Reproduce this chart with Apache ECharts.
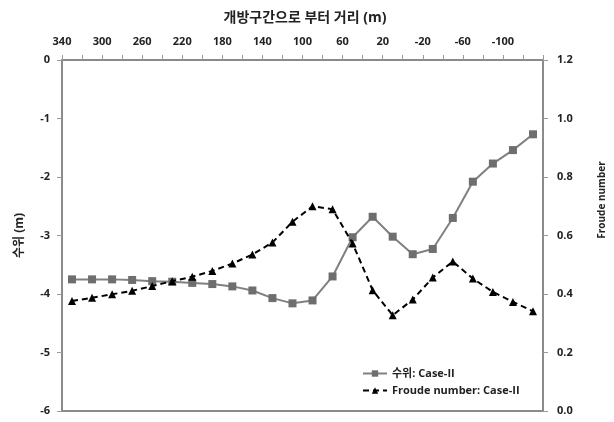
<!DOCTYPE html>
<html>
<head>
<meta charset="utf-8">
<script src="https://cdn.jsdelivr.net/npm/echarts@6/dist/echarts.min.js"></script>
<style>
  html, body { margin: 0; padding: 0; background: #fff; }
  #chart { width: 614px; height: 422px; }
</style>
</head>
<body>
<div id="chart"></div>
<script>
// Measurement stations along the channel (hidden category axis)
const stations = ['1','2','3','4','5','6','7','8','9','10','11','12',
                  '13','14','15','16','17','18','19','20','21','22','23','24'];

// Water level (m), Case-II
const waterLevel = [-3.75, -3.75, -3.75, -3.76, -3.78, -3.79, -3.81, -3.83,
                    -3.87, -3.94, -4.07, -4.16, -4.11, -3.70, -3.03, -2.68,
                    -3.02, -3.32, -3.23, -2.70, -2.08, -1.77, -1.54, -1.27];

// Froude number, Case-II
const froude = [0.376, 0.387, 0.399, 0.411, 0.427, 0.444, 0.459, 0.479,
                0.504, 0.535, 0.576, 0.647, 0.700, 0.690, 0.573, 0.413,
                0.327, 0.381, 0.456, 0.511, 0.453, 0.407, 0.373, 0.341];

// Distance from the opening section (m), labelled on the top axis
const distanceTicks = [340, 300, 260, 220, 180, 140, 100, 60, 20, -20, -60, -100];

const FONT = '"Open Sans", "Noto Sans CJK KR", sans-serif';
const axisGray = '#8a8a8a';
const tickGray = '#9a9a9a';
const labelStyle = { color: '#222', fontFamily: FONT, fontWeight: 'bold', fontSize: 11 };

const chart = echarts.init(document.getElementById('chart'), null, { renderer: 'canvas' });

chart.setOption({
  animation: false,
  backgroundColor: '#fff',
  title: {
    text: '개방구간으로 부터 거리 (m)',
    left: 300, top: 6, textAlign: 'center',
    textStyle: { fontFamily: FONT, fontWeight: 'bold', fontSize: 14, color: '#222' }
  },
  grid: { left: 62, right: 71, top: 60, bottom: 11 },
  legend: {
    orient: 'vertical', left: 357, top: 363, itemGap: 6,
    itemWidth: 24, itemHeight: 8,
    textStyle: { fontFamily: FONT, fontWeight: 'bold', fontSize: 11, color: '#222' },
    data: ['수위: Case-II', 'Froude number: Case-II']
  },
  xAxis: [
    {
      type: 'category', data: stations, position: 'bottom', boundaryGap: true,
      axisLine: { onZero: false, lineStyle: { color: axisGray, width: 2 } },
      axisTick: { show: false }, axisLabel: { show: false }, splitLine: { show: false }
    },
    {
      type: 'value', position: 'top', inverse: true,
      min: -140, max: 340, interval: 20,
      axisLine: { show: true, onZero: false, lineStyle: { color: axisGray, width: 2 } },
      axisTick: { show: true, length: 5, lineStyle: { color: tickGray, width: 1 } },
      axisLabel: {
        ...labelStyle, margin: 13,
        formatter: v => distanceTicks.includes(v) ? String(v) : ''
      },
      splitLine: { show: false }
    }
  ],
  yAxis: [
    {
      type: 'value', min: -6, max: 0, interval: 1, position: 'left',
      name: '수위 (m)', nameLocation: 'middle', nameGap: 36, nameRotate: 90,
      nameTextStyle: { fontFamily: FONT, fontWeight: 'bold', fontSize: 12, color: '#222' },
      axisLine: { show: true, onZero: false, lineStyle: { color: axisGray, width: 2 } },
      axisTick: { show: true, length: 5, lineStyle: { color: tickGray, width: 1 } },
      axisLabel: { ...labelStyle, margin: 12 },
      splitLine: { show: false }
    },
    {
      type: 'value', min: 0, max: 1.2, interval: 0.2, position: 'right',
      axisLine: { show: true, onZero: false, lineStyle: { color: axisGray, width: 2 } },
      axisTick: { show: true, length: 5, lineStyle: { color: tickGray, width: 1 } },
      axisLabel: { ...labelStyle, margin: 14, formatter: v => v.toFixed(1) },
      splitLine: { show: false }
    }
  ],
  graphic: [{
    type: 'text', x: 602, y: 200, rotation: Math.PI / 2,
    style: {
      text: 'Froude number', fontFamily: FONT, fontWeight: 'bold', fontSize: 10,
      fill: '#222', align: 'center', verticalAlign: 'middle'
    }
  }],
  series: [
    {
      name: '수위: Case-II', type: 'line', xAxisIndex: 0, yAxisIndex: 0,
      data: waterLevel,
      symbol: 'rect', symbolSize: 8,
      itemStyle: { color: '#6e6e6e', borderWidth: 0 },
      lineStyle: { color: '#808080', width: 2 },
      z: 3
    },
    {
      name: 'Froude number: Case-II', type: 'line', xAxisIndex: 0, yAxisIndex: 1,
      data: froude,
      symbol: 'triangle', symbolSize: 8,
      itemStyle: { color: '#000', borderWidth: 0 },
      lineStyle: { color: '#000', width: 2, type: [6, 4] },
      z: 4
    }
  ]
});
</script>
</body>
</html>
